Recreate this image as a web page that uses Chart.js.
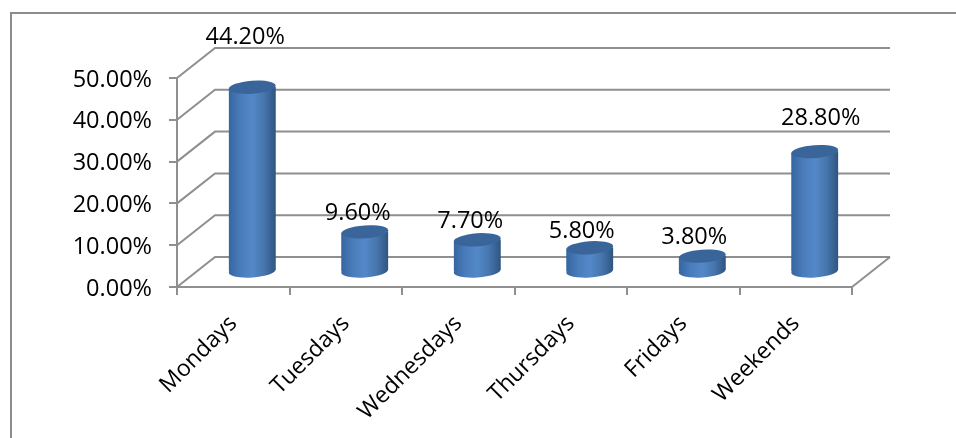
<!DOCTYPE html>
<html>
<head>
<meta charset="utf-8">
<title>Share by day</title>
<script src="https://cdn.jsdelivr.net/npm/chart.js@4"></script>
<style>
  html, body { margin: 0; padding: 0; background: #fff; overflow: hidden; }
  #frame { position: absolute; left: 10px; top: 12px; width: 946px; height: 426px;
           border-top: 2px solid #8c8c8c; border-left: 2px solid #8c8c8c; box-sizing: border-box; }
  canvas { position: absolute; left: 0; top: 0; }
</style>
</head>
<body>
<div id="frame"></div>
<canvas id="chart" width="956" height="438"></canvas>
<script>
const categories = ['Mondays', 'Tuesdays', 'Wednesdays', 'Thursdays', 'Fridays', 'Weekends'];
const shares = [44.2, 9.6, 7.7, 5.8, 3.8, 28.8];
const valueLabels = ['44.20%', '9.60%', '7.70%', '5.80%', '3.80%', '28.80%'];
const yMax = 50;
const yStep = 10;

// pseudo 3D: depth of the box, the bars sit half way in
const DEPTH_X = 38, DEPTH_Y = 30;
const BAR_W = 47, CAP_RY = 6.5, CAP_TILT = -0.07;
const GRID = '#8f8f8f', FONT = '23.5px "Open Sans"';
// labels were moved by hand in the original chart
const labelShift = [[-7, -31], [-7, 0], [-7, 0], [-8, 3], [-8, 0], [6, -14]];

function barFill(ctx, cx) {
  if (!isFinite(cx)) return '#4a7cba';
  const g = ctx.createLinearGradient(cx - BAR_W / 2, 0, cx + BAR_W / 2, 0);
  g.addColorStop(0, '#3566a2');
  g.addColorStop(0.25, '#4a7cba');
  g.addColorStop(0.5, '#5388c8');
  g.addColorStop(0.75, '#4676ae');
  g.addColorStop(1, '#2f5580');
  return g;
}

const box3d = {
  id: 'box3d',
  beforeDatasetsDraw(chart) {
    const { ctx, scales: { x, y } } = chart;
    const l = x.left, r = x.right;
    ctx.save();
    ctx.strokeStyle = GRID;
    ctx.lineWidth = 2;
    for (let v = 0; v <= yMax; v += yStep) {
      const py = y.getPixelForValue(v);
      ctx.beginPath();
      ctx.moveTo(l, py);
      ctx.lineTo(l + DEPTH_X, py - DEPTH_Y);
      ctx.lineTo(r + DEPTH_X, py - DEPTH_Y);
      ctx.stroke();
    }
    const p0 = y.getPixelForValue(0);
    ctx.beginPath();
    ctx.moveTo(r, p0);
    ctx.lineTo(r + DEPTH_X, p0 - DEPTH_Y);
    ctx.stroke();
    ctx.restore();
  },
  beforeDatasetDraw(chart, args) {
    const { ctx } = chart;
    const bars = args.meta.data;
    const tiltY = Math.sin(-CAP_TILT) * BAR_W / 2;
    ctx.save();
    ctx.translate(DEPTH_X / 2, -DEPTH_Y / 2);
    bars.forEach(b => {
      ctx.fillStyle = barFill(ctx, b.x);
      ctx.beginPath();
      ctx.ellipse(b.x, b.base, BAR_W / 2, CAP_RY, CAP_TILT, 0, Math.PI * 2);
      ctx.fill();
    });
    ctx.beginPath();
    bars.forEach(b => {
      ctx.moveTo(b.x - BAR_W / 2, b.y + tiltY);
      ctx.lineTo(b.x - BAR_W / 2, b.base + tiltY);
      ctx.lineTo(b.x + BAR_W / 2, b.base - tiltY);
      ctx.lineTo(b.x + BAR_W / 2, b.y - tiltY);
      ctx.closePath();
    });
    ctx.clip();
  },
  afterDatasetDraw(chart, args) {
    const { ctx } = chart;
    ctx.restore();
    ctx.save();
    ctx.translate(DEPTH_X / 2, -DEPTH_Y / 2);
    args.meta.data.forEach(b => {
      ctx.fillStyle = '#39659b';
      ctx.beginPath();
      ctx.ellipse(b.x, b.y, BAR_W / 2, CAP_RY, CAP_TILT, 0, Math.PI * 2);
      ctx.fill();
    });
    ctx.restore();
  },
  afterDatasetsDraw(chart) {
    const { ctx } = chart;
    const bars = chart.getDatasetMeta(0).data;
    ctx.save();
    ctx.font = FONT;
    ctx.fillStyle = '#000';
    ctx.textAlign = 'center';
    ctx.textBaseline = 'middle';
    bars.forEach((b, i) => {
      const s = labelShift[i];
      ctx.fillText(valueLabels[i], b.x + DEPTH_X / 2 + s[0], b.y - DEPTH_Y / 2 - 19 + s[1]);
    });
    ctx.restore();
  }
};

new Chart(document.getElementById('chart'), {
  type: 'bar',
  data: {
    labels: categories,
    datasets: [{
      data: shares,
      barThickness: BAR_W,
      borderWidth: 0,
      backgroundColor: c => {
        const x = c.chart.scales.x;
        return barFill(c.chart.ctx, x.getPixelForValue(c.dataIndex));
      }
    }]
  },
  options: {
    responsive: false,
    animation: false,
    layout: { padding: { top: 78, right: 104, left: 0, bottom: 0 } },
    plugins: { legend: { display: false }, tooltip: { enabled: false } },
    scales: {
      x: {
        afterFit: s => { s.height = 151; },
        border: { color: GRID, width: 2 },
        grid: { drawOnChartArea: false, color: GRID, lineWidth: 2, tickLength: 8 },
        ticks: { color: '#000', font: { family: 'Open Sans', size: 23 }, minRotation: 45, maxRotation: 45, padding: 15 }
      },
      y: {
        min: 0,
        max: yMax,
        afterFit: s => { s.width = 177; },
        border: { color: GRID, width: 2 },
        grid: { drawOnChartArea: false, color: GRID, lineWidth: 2, tickLength: 8 },
        ticks: {
          stepSize: yStep,
          color: '#000',
          font: { family: 'Open Sans', size: 23.5 },
          padding: 17,
          labelOffset: 2,
          callback: v => v.toFixed(2) + '%'
        }
      }
    }
  },
  plugins: [box3d]
});
</script>
</body>
</html>
